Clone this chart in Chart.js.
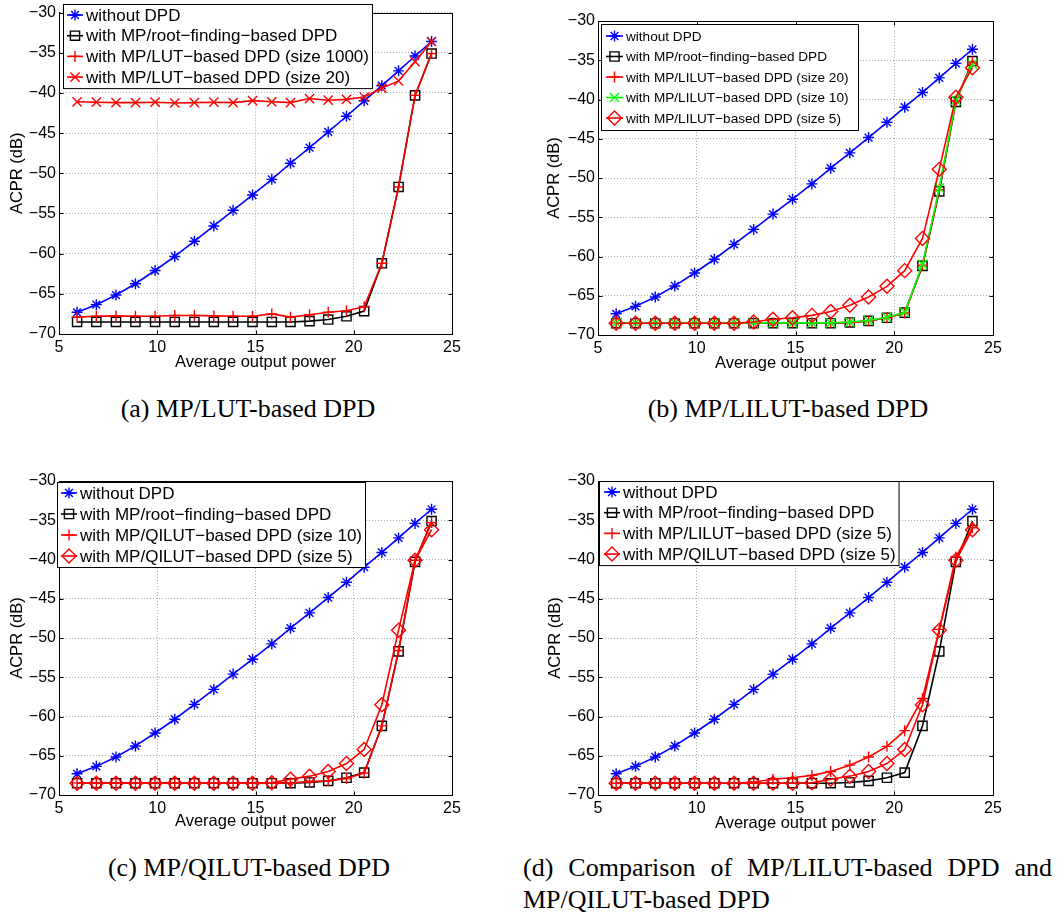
<!DOCTYPE html>
<html><head><meta charset="utf-8">
<script src="https://cdn.jsdelivr.net/npm/chart.js@4.4.1/dist/chart.umd.min.js"></script>
<style>
body{margin:0;background:#fff;width:1057px;height:918px;position:relative;overflow:hidden}
canvas{position:absolute}
.cap{position:absolute;font-family:"Liberation Serif","Times New Roman",serif;font-size:26px;color:#000;white-space:nowrap;line-height:32px}
</style></head><body>
<canvas id="ca" width="528" height="380" style="left:0;top:0"></canvas>
<canvas id="cb" width="529" height="380" style="left:528px;top:0"></canvas>
<canvas id="cc" width="528" height="380" style="left:0;top:460px"></canvas>
<canvas id="cd" width="529" height="380" style="left:528px;top:460px"></canvas>
<div class="cap" style="left:0;width:496px;text-align:center;top:393px">(a) MP/LUT-based DPD</div>
<div class="cap" style="left:528px;width:520px;text-align:center;top:393px">(b) MP/LILUT-based DPD</div>
<div class="cap" style="left:0;width:498px;text-align:center;top:852px">(c) MP/QILUT-based DPD</div>
<div class="cap" style="left:523px;width:529px;top:852px;text-align:justify;text-align-last:justify;white-space:normal">(d) Comparison of MP/LILUT-based DPD and</div>
<div class="cap" style="left:523px;top:884px">MP/QILUT-based DPD</div>
<script>
// ---- data ----
const xVals = [5.92, 6.9, 7.9, 8.89, 9.89, 10.89, 11.89, 12.88, 13.86, 14.85, 15.83, 16.78, 17.75, 18.7, 19.63, 20.53, 21.43, 22.28, 23.12, 23.96];
const withoutDPD = [-67.3, -66.35, -65.15, -63.75, -62.1, -60.35, -58.45, -56.55, -54.6, -52.7, -50.75, -48.75, -46.8, -44.85, -42.9, -40.98, -39.1, -37.25, -35.4, -33.6];
const rootFinding = [-68.5, -68.5, -68.5, -68.5, -68.5, -68.5, -68.5, -68.5, -68.5, -68.5, -68.5, -68.5, -68.4, -68.2, -67.8, -67.15, -61.2, -51.7, -40.3, -35.1];
const lut1000 = [-67.9, -67.8, -67.75, -67.8, -67.8, -67.7, -67.7, -67.75, -67.8, -67.8, -67.5, -67.9, -67.6, -67.3, -67.1, -66.6, -61.2, -51.7, -40.3, -35.1];
const lut20 = [-41.1, -41.15, -41.2, -41.2, -41.15, -41.25, -41.2, -41.15, -41.2, -40.95, -41.1, -41.2, -40.7, -40.9, -40.8, -40.5, -39.4, -38.5, -36.1, -33.6];
const lilut20 = [-68.45, -68.45, -68.45, -68.45, -68.45, -68.45, -68.45, -68.45, -68.45, -68.45, -68.45, -68.45, -68.4, -68.2, -67.8, -67.2, -61.1, -51.5, -40.2, -35.2];
const lilut10 = [-68.45, -68.45, -68.45, -68.45, -68.45, -68.45, -68.45, -68.45, -68.45, -68.45, -68.45, -68.45, -68.35, -68.15, -67.75, -67.1, -61.0, -51.3, -40.1, -35.5];
const lilut5 = [-68.5, -68.5, -68.5, -68.5, -68.5, -68.5, -68.5, -68.35, -68.0, -67.8, -67.5, -67.0, -66.2, -65.15, -63.8, -61.8, -57.7, -48.9, -39.7, -35.95];
const qilut10 = [-68.45, -68.45, -68.45, -68.45, -68.45, -68.45, -68.45, -68.45, -68.45, -68.45, -68.45, -68.45, -68.3, -68.2, -67.9, -67.2, -61.2, -51.6, -40.1, -35.3];
const qilut5 = [-68.5, -68.5, -68.5, -68.5, -68.5, -68.5, -68.5, -68.5, -68.5, -68.5, -68.45, -68.0, -67.6, -67.0, -66.0, -64.2, -58.5, -49.0, -40.1, -36.2];
const xTicks = [5, 10, 15, 20, 25];
const yTicks = [-70, -65, -60, -55, -50, -45, -40, -35, -30];
const xTitle = 'Average output power';
const yTitle = 'ACPR (dB)';

// ---- series styles ----
const S = {
  noDPD:  {label:'without DPD', data:withoutDPD, color:'#0000ff', ps:'star', r:5.5},
  root:   {label:'with MP/root\u2212finding\u2212based DPD', data:rootFinding, color:'#000000', ps:'rect', r:6.5},
  lut1000:{label:'with MP/LUT\u2212based DPD (size 1000)', data:lut1000, color:'#ff0000', ps:'cross', r:5.5},
  lut20:  {label:'with MP/LUT\u2212based DPD (size 20)', data:lut20, color:'#ff0000', ps:'crossRot', r:6.5},
  li20:   {label:'with MP/LILUT\u2212based DPD (size 20)', data:lilut20, color:'#ff0000', ps:'cross', r:5.5},
  li10:   {label:'with MP/LILUT\u2212based DPD (size 10)', data:lilut10, color:'#00ff00', ps:'crossRot', r:6.5},
  li5d:   {label:'with MP/LILUT\u2212based DPD (size 5)', data:lilut5, color:'#ff0000', ps:'rectRot', r:7},
  li5p:   {label:'with MP/LILUT\u2212based DPD (size 5)', data:lilut5, color:'#ff0000', ps:'cross', r:5.5},
  qi10:   {label:'with MP/QILUT\u2212based DPD (size 10)', data:qilut10, color:'#ff0000', ps:'cross', r:5.5},
  qi5:    {label:'with MP/QILUT\u2212based DPD (size 5)', data:qilut5, color:'#ff0000', ps:'rectRot', r:7}
};

const FAM = '"Liberation Sans", Arial, Helvetica, sans-serif';

function drawMarker(ctx, style, x, y, r) {
  const d = r * Math.SQRT1_2;
  ctx.beginPath();
  if (style === 'star' || style === 'cross') {
    ctx.moveTo(x - r, y); ctx.lineTo(x + r, y); ctx.moveTo(x, y - r); ctx.lineTo(x, y + r);
  }
  if (style === 'star' || style === 'crossRot') {
    ctx.moveTo(x - d, y - d); ctx.lineTo(x + d, y + d); ctx.moveTo(x - d, y + d); ctx.lineTo(x + d, y - d);
  }
  if (style === 'rect') ctx.rect(x - d, y - d, 2 * d, 2 * d);
  if (style === 'rectRot') { ctx.moveTo(x - r, y); ctx.lineTo(x, y - r); ctx.lineTo(x + r, y); ctx.lineTo(x, y + r); ctx.closePath(); }
  ctx.stroke();
}

function makePanel(id, keys, P) {
  const series = keys.map(k => S[k]);
  const n = series.length;
  const datasets = series.map((s, i) => ({
    label: s.label,
    data: xVals.map((x, j) => ({x: x, y: s.data[j]})),
    borderColor: s.color, backgroundColor: 'rgba(0,0,0,0)', borderWidth: 1.6,
    pointStyle: s.ps, pointRadius: s.r, pointHoverRadius: s.r, pointBorderWidth: 1.4,
    pointBorderColor: s.color, pointBackgroundColor: 'rgba(0,0,0,0)',
    tension: 0, order: -i, clip: false
  }));
  const plugin = {
    id: 'matFrame' + id,
    afterDatasetsDraw(chart) {
      const {ctx, chartArea: a, scales} = chart;
      const L = Math.round(a.left) + 0.5, R = Math.round(a.right) + 0.5, T = Math.round(a.top) + 0.5, B = Math.round(a.bottom) + 0.5;
      ctx.save();
      ctx.strokeStyle = '#000'; ctx.lineWidth = 1; ctx.setLineDash([]);
      ctx.strokeRect(L, T, R - L, B - T);
      ctx.beginPath();
      xTicks.forEach(v => { const p = Math.round(scales.x.getPixelForValue(v)) + 0.5; ctx.moveTo(p, B); ctx.lineTo(p, B - 4); ctx.moveTo(p, T); ctx.lineTo(p, T + 4); });
      yTicks.forEach(v => { const p = Math.round(scales.y.getPixelForValue(v)) + 0.5; ctx.moveTo(L, p); ctx.lineTo(L + 4, p); ctx.moveTo(R, p); ctx.lineTo(R - 4, p); });
      ctx.stroke();
      ctx.restore();
    },
    afterDraw(chart) {
      const ctx = chart.ctx, g = P.legend;
      ctx.save();
      ctx.font = g.font + 'px ' + FAM;
      let maxW = 0;
      series.forEach(s => { maxW = Math.max(maxW, ctx.measureText(s.label).width); });
      const right = Math.max(g.right, g.textX + maxW + 3);
      const h = (n - 1) * g.gap + 2 * g.padY;
      ctx.fillStyle = '#fff';
      ctx.fillRect(g.left, g.top, right - g.left, h);
      ctx.strokeStyle = '#000'; ctx.lineWidth = 1;
      ctx.strokeRect(g.left + 0.5, g.top + 0.5, right - g.left, h);
      series.forEach((s, i) => {
        const y = g.top + g.padY + i * g.gap;
        ctx.strokeStyle = s.color; ctx.lineWidth = 1.6;
        ctx.beginPath(); ctx.moveTo(g.seg0, y); ctx.lineTo(g.seg1, y); ctx.stroke();
        ctx.lineWidth = 1.4;
        drawMarker(ctx, s.ps, (g.seg0 + g.seg1) / 2, y, s.r);
        ctx.fillStyle = '#000'; ctx.textBaseline = 'middle'; ctx.textAlign = 'left';
        ctx.fillText(s.label, g.textX, y + 1);
      });
      ctx.restore();
    }
  };
  const canvas = document.getElementById(id);
  const W = canvas.width, H = canvas.height;
  new Chart(canvas.getContext('2d'), {
    type: 'line',
    data: {datasets},
    plugins: [plugin],
    options: {
      responsive: false, animation: false, devicePixelRatio: 1,
      layout: {padding: {left: 0, top: P.T, right: W - P.R, bottom: 0}},
      plugins: {legend: {display: false}, tooltip: {enabled: false}},
      events: [],
      scales: {
        x: {
          type: 'linear', min: 5, max: 25,
          afterBuildTicks: s => { s.ticks = xTicks.map(v => ({value: v})); },
          afterFit: s => { s.height = H - P.B; },
          grid: {color: '#a8a8a8', lineWidth: 1, drawTicks: false},
          border: {display: true, color: '#000', width: 1, dash: [1, 2]},
          ticks: {font: {family: FAM, size: 16}, color: '#000', padding: 4, maxRotation: 0, autoSkip: false},
          title: {display: true, text: xTitle, font: {family: FAM, size: 16.5}, color: '#000', padding: {top: 0, bottom: P.xtp}}
        },
        y: {
          type: 'linear', min: -70, max: -30,
          afterBuildTicks: s => { s.ticks = yTicks.map(v => ({value: v})); },
          afterFit: s => { s.width = P.L; },
          grid: {color: '#a8a8a8', lineWidth: 1, drawTicks: false},
          border: {display: true, color: '#000', width: 1, dash: [1, 2]},
          ticks: {font: {family: FAM, size: 16}, color: '#000', padding: 3, autoSkip: false,
                  callback: v => (v < 0 ? '\u2212' + Math.abs(v) : String(v))},
          title: {display: true, text: yTitle, font: {family: FAM, size: 16.5}, color: '#000', padding: {top: P.ytp, bottom: 0}}
        }
      }
    }
  });
}

makePanel('ca', ['noDPD', 'root', 'lut1000', 'lut20'],
  {L: 59, R: 452, T: 11, B: 334, xtp: 8, ytp: 7.6,
   legend: {left: 63, top: 4, right: 369, padY: 11, gap: 20.7, seg0: 67, seg1: 83, textX: 86, font: 17}});
makePanel('cb', ['noDPD', 'root', 'li20', 'li10', 'li5d'],
  {L: 70, R: 465, T: 21, B: 335, xtp: 7, ytp: 17,
   legend: {left: 73, top: 24, right: 330, padY: 12, gap: 20.5, seg0: 78, seg1: 95, textX: 98, font: 13.6}});
makePanel('cc', ['noDPD', 'root', 'qi10', 'qi5'],
  {L: 59, R: 452, T: 21, B: 335, xtp: 8.4, ytp: 7.6,
   legend: {left: 57, top: 22, right: 362, padY: 11, gap: 21, seg0: 61, seg1: 77, textX: 80, font: 17}});
makePanel('cd', ['noDPD', 'root', 'li5p', 'qi5'],
  {L: 70, R: 465, T: 21, B: 335, xtp: 6.8, ytp: 17.6,
   legend: {left: 71, top: 21, right: 370, padY: 11, gap: 20.7, seg0: 76, seg1: 92, textX: 95, font: 17}});
</script>
</body></html>
